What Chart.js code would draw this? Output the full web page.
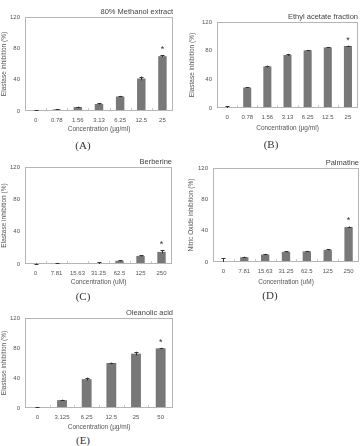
<!DOCTYPE html>
<html>
<head>
<meta charset="utf-8">
<script src="https://cdn.jsdelivr.net/npm/chart.js@4/dist/chart.umd.min.js"></script>
<style>
body { margin: 0; background: #fff; width: 362px; height: 446px; position: relative; overflow: hidden; }
.panel { position: absolute; }
.lbl { position: absolute; font-family: "Liberation Serif", serif; font-size: 11px; color: #333; transform: translateX(-50%); }
</style>
</head>
<body>
<div class="panel" id="boxA"><canvas id="chartA"></canvas></div>
<div class="panel" id="boxB"><canvas id="chartB"></canvas></div>
<div class="panel" id="boxC"><canvas id="chartC"></canvas></div>
<div class="panel" id="boxD"><canvas id="chartD"></canvas></div>
<div class="panel" id="boxE"><canvas id="chartE"></canvas></div>
<div class="lbl" style="left:83px;top:139px">(A)</div>
<div class="lbl" style="left:271px;top:138px">(B)</div>
<div class="lbl" style="left:83px;top:290px">(C)</div>
<div class="lbl" style="left:270px;top:289px">(D)</div>
<div class="lbl" style="left:83px;top:434px">(E)</div>
<script>
// data
var concUg = ['0', '0.78', '1.56', '3.13', '6.25', '12.5', '25'];
var concUm = ['0', '7.81', '15.63', '31.25', '62.5', '125', '250'];
var concOa = ['0', '3.125', '6.25', '12.5', '25', '50'];
var yTicks = [0, 40, 80, 120];

var methanolVals = [0.5, 2, 5, 9, 18.5, 41.5, 70];
var methanolErr = [0.3, 0.6, 0.6, 0.8, 0.8, 2.5, 1.2];

var ethylVals = [0, 28.5, 58, 74, 80.5, 84.5, 86.5];
var ethylErr = [2.5, 0.8, 1.2, 1.5, 0.5, 0.8, 0.6];

var berberineVals = [0.3, 0.6, 0, 1, 4, 10, 15];
var berberineErr = [0.3, 0.4, 0, 1, 0.6, 0.8, 2];

var palmatineVals = [0, 6, 9.5, 13, 13.5, 15.5, 44.5];
var palmatineErr = [5, 0.8, 0.8, 0.6, 0.8, 0.6, 0.8];

var oleanolicVals = [0.5, 10.5, 38.5, 60, 72.5, 79.5];
var oleanolicErr = [0.3, 0.6, 2, 0.6, 2.5, 0.8];

var textColor = '#555';
var barColor = '#787878';

var panelDecor = {
	id: 'panelDecor',
	afterDatasetsDraw: function(chart, args, opts) {
		var ctx = chart.ctx;
		var a = chart.chartArea;
		var y = chart.scales.y;
		var meta = chart.getDatasetMeta(0);
		var n = meta.data.length;
		ctx.save();
		// plot frame
		ctx.strokeStyle = '#b5b5b5';
		ctx.lineWidth = 1;
		ctx.strokeRect(Math.round(a.left) + 0.5, Math.round(a.top) + 0.5, Math.round(a.width) - 1, Math.round(a.height) - 1);
		// small ticks between categories
		ctx.strokeStyle = '#c8c8c8';
		for (var k = 1; k < n; k++) {
			var tx = Math.round(a.left + a.width * k / n) + 0.5;
			ctx.beginPath();
			ctx.moveTo(tx, a.bottom - 1);
			ctx.lineTo(tx, a.bottom - 3);
			ctx.stroke();
		}
		// error bars
		ctx.strokeStyle = '#333';
		meta.data.forEach(function(bar, i) {
			var e = opts.errors[i];
			if (!e) return;
			var v = opts.values[i];
			var top = y.getPixelForValue(v + e);
			var bot = y.getPixelForValue(Math.max(v - e, 0));
			var cx = Math.round(bar.x) + 0.5;
			ctx.beginPath();
			ctx.moveTo(cx, top);
			ctx.lineTo(cx, bot);
			ctx.moveTo(cx - 2, Math.round(top) + 0.5);
			ctx.lineTo(cx + 2, Math.round(top) + 0.5);
			ctx.stroke();
		});
		// significance mark
		if (opts.star != null) {
			var sb = meta.data[opts.star];
			var sy = y.getPixelForValue(opts.values[opts.star] + opts.errors[opts.star]);
			ctx.fillStyle = '#333';
			ctx.font = '9px "Liberation Sans", sans-serif';
			ctx.textAlign = 'center';
			ctx.textBaseline = 'bottom';
			ctx.fillText('*', sb.x, sy - 1);
		}
		// panel title
		ctx.fillStyle = '#444';
		ctx.font = '7.5px "Liberation Sans", sans-serif';
		ctx.textAlign = 'right';
		ctx.textBaseline = 'bottom';
		ctx.fillText(opts.title, a.right, a.top - 1);
		ctx.restore();
	}
};

function makePanel(id, geo, labels, values, errors, star, title, yTitle, xTitle) {
	var box = document.getElementById('box' + id);
	box.style.left = geo.x + 'px';
	box.style.top = geo.y + 'px';
	box.style.width = geo.w + 'px';
	box.style.height = geo.h + 'px';
	return new Chart(document.getElementById('chart' + id), {
		type: 'bar',
		data: {
			labels: labels,
			datasets: [{
				data: values,
				backgroundColor: barColor,
				borderWidth: 0,
				barPercentage: 0.4,
				categoryPercentage: 1
			}]
		},
		options: {
			responsive: true,
			maintainAspectRatio: false,
			animation: false,
			layout: { padding: { top: geo.top, right: geo.right, left: 0, bottom: 0 } },
			plugins: {
				legend: { display: false },
				tooltip: { enabled: false },
				panelDecor: { values: values, errors: errors, star: star, title: title }
			},
			scales: {
				x: {
					grid: { display: false, drawTicks: false },
					border: { display: false },
					ticks: { color: textColor, font: { size: 6, family: 'Liberation Sans' }, padding: 6, maxRotation: 0, autoSkip: false },
					title: { display: true, text: xTitle, color: textColor, font: { size: 6.5, family: 'Liberation Sans' }, padding: { top: 0, bottom: 1 } },
					afterFit: function(s) { s.height = geo.xh; }
				},
				y: {
					min: 0,
					max: 120,
					afterBuildTicks: function(s) { s.ticks = yTicks.map(function(v) { return { value: v }; }); },
					grid: { display: false, drawTicks: false },
					border: { display: false },
					ticks: { color: textColor, font: { size: 6, family: 'Liberation Sans' }, padding: 5 },
					title: { display: true, text: yTitle, color: textColor, font: { size: 6.5, family: 'Liberation Sans' }, padding: { top: 0, bottom: 0 } },
					afterFit: function(s) { s.width = geo.yw; }
				}
			}
		},
		plugins: [panelDecor]
	});
}

var ugTitle = 'Concentration (\u00b5g/ml)';
var umTitle = 'Concentration (uM)';
var elastase = 'Elastase inhibition (%)';

makePanel('A', { x: 0, y: 0, w: 181, h: 134, top: 17, right: 8, yw: 25, xh: 23 },
	concUg, methanolVals, methanolErr, 6, '80% Methanol extract', elastase, ugTitle);
makePanel('B', { x: 188, y: 0, w: 174, h: 133, top: 22, right: 4, yw: 29, xh: 25 },
	concUg, ethylVals, ethylErr, 6, 'Ethyl acetate fraction', elastase, ugTitle);
makePanel('C', { x: 0, y: 150, w: 181, h: 137, top: 17, right: 9, yw: 25, xh: 23 },
	concUm, berberineVals, berberineErr, 6, 'Berberine', elastase, umTitle);
makePanel('D', { x: 187, y: 150, w: 175, h: 137, top: 18, right: 3, yw: 26, xh: 25 },
	concUm, palmatineVals, palmatineErr, 6, 'Palmatine', 'Nitric Oxide inhibition (%)', umTitle);
makePanel('E', { x: 0, y: 300, w: 181, h: 132, top: 18, right: 8, yw: 25, xh: 24 },
	concOa, oleanolicVals, oleanolicErr, 5, 'Oleanolic acid', elastase, ugTitle);
</script>
</body>
</html>
